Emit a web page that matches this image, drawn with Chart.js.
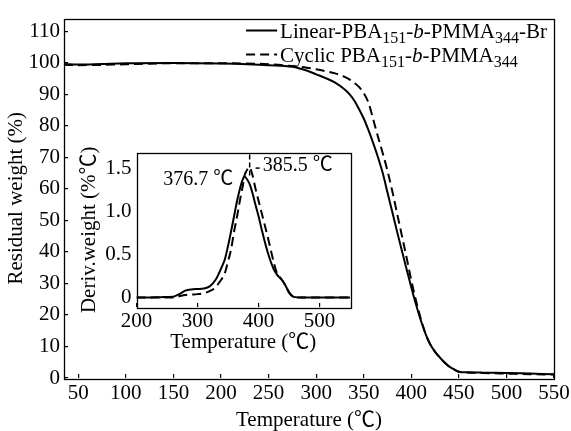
<!DOCTYPE html>
<html lang="en">
<head>
<meta charset="UTF-8">
<title>TGA / DTG</title>
<script src="https://cdn.jsdelivr.net/npm/chart.js"></script>
<style>
  body { margin: 0; background: #fff; }
  .wrap { position: relative; width: 571px; height: 431px; }
  #mainChart { position: absolute; left: 0; top: 0; }
  #insetChart { position: absolute; left: 60px; top: 137px; }
</style>
</head>
<body>
<div class="wrap">
  <canvas id="mainChart" width="571" height="431"></canvas>
  <canvas id="insetChart" width="300" height="221"></canvas>
</div>
<script>
// TGA curves (residual weight, %)
const tgaTemp = [35, 50, 75, 100, 150, 200, 250, 275, 290, 300, 310, 320, 330, 335, 340, 345, 350, 355, 360, 365, 370,
    375, 380, 385, 390, 395, 400, 405, 410, 415, 420, 425, 430, 435, 440, 445, 450, 460, 475, 500, 525, 550];
const tgaLinear = [99.6, 99.4, 99.6, 99.8, 99.9, 99.7, 99.2, 98.7, 97.5, 96.3, 95.1, 93.7, 91.5, 90.0, 88.0, 85.3, 82.3, 78.6, 74.5, 70.0, 65.0,
    58.8, 52.7, 46.5, 40.5, 34.6, 28.8, 23.3, 18.3, 14.0, 10.6, 8.3, 6.5, 4.9, 3.6, 2.7, 2.0, 1.8, 1.7, 1.6, 1.4, 1.2];
const tgaCyclic = [99.3, 99.2, 99.3, 99.5, 99.8, 99.8, 99.5, 98.9, 98.4, 97.9, 97.3, 96.6, 95.5, 94.7, 93.6, 92.3, 90.3, 87.3, 82.0, 76.5, 71.3,
    65.7, 59.3, 52.3, 45.3, 38.3, 31.0, 24.5, 18.8, 14.0, 10.6, 8.3, 6.5, 4.9, 3.6, 2.7, 2.0, 1.7, 1.6, 1.4, 1.2, 1.1];

// DTG curves (inset, %/℃)
const dtgTemp = [200, 220, 240, 260, 270, 280, 290, 300, 310, 320, 330, 335, 340, 345, 350, 355, 360, 365, 370, 375,
    377, 380, 385, 390, 395, 400, 405, 410, 415, 420, 425, 430, 435, 440, 445, 450, 455, 460, 470, 500, 550];
const dtgLinear = [0, 0, 0.005, 0.01, 0.04, 0.08, 0.095, 0.10, 0.105, 0.13, 0.21, 0.28, 0.36, 0.45, 0.6, 0.77, 0.95, 1.13, 1.28, 1.39,
    1.41, 1.39, 1.33, 1.22, 1.08, 0.95, 0.8, 0.66, 0.53, 0.42, 0.33, 0.27, 0.23, 0.19, 0.13, 0.06, 0.02, 0.005, 0, 0, 0];
const dtgCyclic = [0, 0, 0, 0, 0.015, 0.03, 0.035, 0.04, 0.05, 0.075, 0.12, 0.17, 0.22, 0.29, 0.42, 0.56, 0.77, 0.95, 1.15, 1.33,
    1.42, 1.47, 1.52, 1.43, 1.27, 1.13, 0.99, 0.85, 0.71, 0.56, 0.41, 0.29, 0.24, 0.19, 0.13, 0.06, 0.02, 0.005, 0, 0, 0];

// peaks marked in the inset
const peakTemps = [376.7, 385.5];
const peakValues = [1.41, 1.52];
const peakLabels = ['376.7 ℃', '385.5 ℃'];

// legend text: _{..} = subscript, *..* = italic
const seriesNames = ['Linear-PBA_{151}-*b*-PMMA_{344}-Br', 'Cyclic PBA_{151}-*b*-PMMA_{344}'];

const FONT = '"Liberation Serif", "Noto Sans CJK SC", serif';
const SIZE = 21;
Chart.defaults.font.family = FONT;
Chart.defaults.font.size = SIZE;
Chart.defaults.color = '#000';

function pts(xs, ys) {
    return xs.map((x, i) => ({ x: x, y: ys[i] }));
}

function parseRich(txt) {
    const parts = [];
    txt.replace(/_\{([^}]*)\}|\*([^*]*)\*|([^_*]+)/g, function (m, sub, it, plain) {
        if (sub) parts.push({ t: sub, k: 'sub' });
        else if (it) parts.push({ t: it, k: 'it' });
        else parts.push({ t: plain, k: 'n' });
    });
    return parts;
}
function setFont(ctx, k) {
    if (k === 'sub') ctx.font = '16px ' + FONT;
    else if (k === 'it') ctx.font = 'italic ' + SIZE + 'px ' + FONT;
    else ctx.font = SIZE + 'px ' + FONT;
}
function richWidth(ctx, parts) {
    let w = 0;
    parts.forEach(p => { setFont(ctx, p.k); w += ctx.measureText(p.t).width; });
    return w;
}
function drawRich(ctx, parts, x, y) {
    ctx.textAlign = 'left';
    ctx.textBaseline = 'alphabetic';
    parts.forEach(p => {
        setFont(ctx, p.k);
        ctx.fillText(p.t, x, p.k === 'sub' ? y + 5 : y);
        x += ctx.measureText(p.t).width;
    });
}

// box round the plot area
const framePlugin = {
    id: 'frame',
    afterDatasetsDraw(chart) {
        const a = chart.chartArea, ctx = chart.ctx;
        ctx.save();
        ctx.strokeStyle = '#000';
        ctx.lineWidth = 1.3;
        ctx.strokeRect(Math.round(a.left) + 0.5, Math.round(a.top) + 0.5,
            Math.round(a.right - a.left), Math.round(a.bottom - a.top));
        ctx.restore();
    }
};

// legend with subscripts and italic b
const richLegend = {
    id: 'richLegend',
    afterDraw(chart) {
        const ctx = chart.ctx, a = chart.chartArea;
        const rows = seriesNames.map(parseRich);
        ctx.save();
        ctx.fillStyle = '#000';
        const left = a.right - 7 - richWidth(ctx, rows[0]);
        rows.forEach((parts, i) => {
            const base = a.top + 19 + i * 24;
            const ds = chart.data.datasets[i];
            ctx.strokeStyle = '#000';
            ctx.lineWidth = ds.borderWidth;
            ctx.setLineDash(ds.borderDash || []);
            ctx.beginPath();
            ctx.moveTo(left - 34, base - 7);
            ctx.lineTo(left - 3, base - 7);
            ctx.stroke();
            ctx.setLineDash([]);
            drawRich(ctx, parts, left, base);
        });
        ctx.restore();
    }
};

// peak labels in the inset
const peakPlugin = {
    id: 'peaks',
    afterDatasetsDraw(chart) {
        const ctx = chart.ctx, xs = chart.scales.x, ys = chart.scales.y, a = chart.chartArea;
        ctx.save();
        ctx.fillStyle = '#000';
        ctx.strokeStyle = '#000';
        ctx.font = '20px ' + FONT;
        ctx.textBaseline = 'middle';

        let px = xs.getPixelForValue(peakTemps[0]);
        let py = ys.getPixelForValue(peakValues[0]);
        ctx.textAlign = 'right';
        ctx.fillText(peakLabels[0], px - 11, py + 3);

        px = xs.getPixelForValue(peakTemps[1]);
        py = ys.getPixelForValue(peakValues[1]);
        ctx.lineWidth = 1.5;
        ctx.setLineDash([5, 3]);
        ctx.beginPath();
        ctx.moveTo(px, a.top + 2);
        ctx.lineTo(px, py + 10);
        ctx.stroke();
        ctx.setLineDash([]);
        ctx.beginPath();
        ctx.moveTo(px + 6, py + 1);
        ctx.lineTo(px + 10, py + 1);
        ctx.stroke();
        ctx.textAlign = 'left';
        ctx.fillText(peakLabels[1], px + 13, py - 1);
        ctx.restore();
    }
};

const lineStyle = { borderColor: '#000', borderWidth: 2, pointRadius: 0, fill: false, cubicInterpolationMode: 'monotone' };

new Chart(document.getElementById('mainChart'), {
    type: 'line',
    data: {
        datasets: [
            Object.assign({ label: 'Linear', data: pts(tgaTemp, tgaLinear) }, lineStyle),
            Object.assign({ label: 'Cyclic', data: pts(tgaTemp, tgaCyclic), borderDash: [9, 5] }, lineStyle)
        ]
    },
    options: {
        responsive: false,
        animation: false,
        layout: { padding: { top: 13, right: 17, left: 0, bottom: 0 } },
        plugins: { legend: { display: false }, tooltip: { enabled: false } },
        scales: {
            x: {
                type: 'linear', min: 35, max: 550,
                ticks: { stepSize: 50, includeBounds: false, autoSkip: false, maxRotation: 0, padding: 9, font: { size: SIZE, lineHeight: 1 } },
                grid: { drawOnChartArea: false, tickLength: -4, color: '#000', lineWidth: 1.2 },
                border: { display: false },
                title: { display: true, text: 'Temperature (℃)', font: { size: SIZE, lineHeight: 1 }, padding: { top: 0, bottom: 0 } },
                afterFit: s => { s.height = 53; s.paddingRight = 17; s.paddingLeft = 0; }
            },
            y: {
                min: 0, max: 114,
                ticks: { stepSize: 10, includeBounds: false, autoSkip: false, padding: 8, font: { size: SIZE, lineHeight: 1 } },
                grid: { drawOnChartArea: false, tickLength: -4, color: '#000', lineWidth: 1.2 },
                border: { display: false },
                title: { display: true, text: 'Residual weight (%)', font: { size: SIZE, lineHeight: 1 }, padding: { top: 6, bottom: 0 } },
                afterFit: s => { s.width = 64; }
            }
        }
    },
    plugins: [framePlugin, richLegend]
});

new Chart(document.getElementById('insetChart'), {
    type: 'line',
    data: {
        datasets: [
            Object.assign({ label: 'Linear', data: pts(dtgTemp, dtgLinear) }, lineStyle),
            Object.assign({ label: 'Cyclic', data: pts(dtgTemp, dtgCyclic), borderDash: [9, 5] }, lineStyle)
        ]
    },
    options: {
        responsive: false,
        animation: false,
        layout: { padding: { top: 11, right: 10, left: 0, bottom: 0 } },
        plugins: { legend: { display: false }, tooltip: { enabled: false } },
        scales: {
            x: {
                type: 'linear', min: 200, max: 550,
                ticks: { stepSize: 100, includeBounds: false, autoSkip: false, maxRotation: 0, padding: 8, font: { size: SIZE, lineHeight: 1 } },
                grid: { drawOnChartArea: false, tickLength: -4, color: '#000', lineWidth: 1.2 },
                border: { display: false },
                title: { display: true, text: 'Temperature (℃)', font: { size: SIZE, lineHeight: 1 }, padding: { top: 0, bottom: 5 } },
                afterFit: s => { s.height = 51; }
            },
            y: {
                min: -0.11, max: 1.69,
                ticks: {
                    stepSize: 0.5, includeBounds: false, autoSkip: false, padding: 5, font: { size: SIZE, lineHeight: 1 },
                    callback: v => (v === 0 ? '0' : v.toFixed(1))
                },
                grid: { drawOnChartArea: false, drawTicks: false, color: '#000' },
                border: { display: false },
                title: { display: true, text: 'Deriv.weight (%℃)', font: { size: SIZE, lineHeight: 1 }, padding: { top: 19, bottom: 0 } },
                afterFit: s => { s.width = 76.5; }
            }
        }
    },
    plugins: [framePlugin, peakPlugin]
});
</script>
</body>
</html>
